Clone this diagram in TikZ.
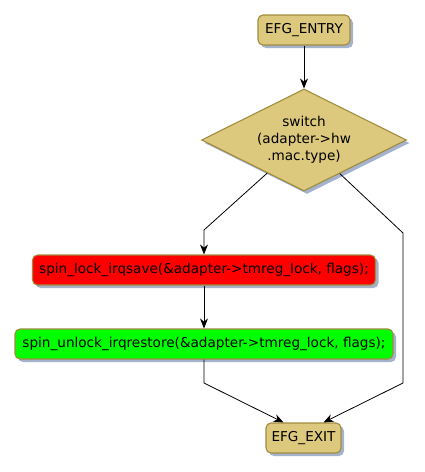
\documentclass[tikz,border=0pt]{standalone}
\usepackage{fontspec}
\setmainfont{DejaVu Sans}
\usetikzlibrary{shapes.geometric, arrows.meta, shadows}
\definecolor{tancol}{RGB}{220,201,125}
\definecolor{edgecol}{RGB}{160,140,64}
\definecolor{shadecol}{RGB}{165,178,204}
\definecolor{lockcol}{RGB}{255,0,0}
\definecolor{unlockcol}{RGB}{0,255,0}

\begin{document}
\begin{tikzpicture}[x=1pt, y=-1pt,
  shade/.style={drop shadow={shadow xshift=3pt, shadow yshift=-3pt,
      fill=shadecol, opacity=1}},
  box/.style={draw=edgecol, line width=1.1pt, rounded corners=5pt,
    inner sep=0pt, minimum height=30pt, shade,
    font=\fontsize{13.6}{17}\selectfont},
  decision/.style={diamond, aspect=2, draw=edgecol, line width=1.1pt,
    fill=tancol, minimum width=205pt, minimum height=102pt, inner sep=0pt,
    align=center, shade, font=\fontsize{13.6}{17}\selectfont},
  flow/.style={line width=0.8pt, -{Stealth[length=10pt, width=8pt]}}]

  \useasboundingbox (0,0) rectangle (425,472);

  % Nodes
  \node[box, fill=tancol, minimum width=92pt] (entry) at (304,30)
    {EFG\_ENTRY};
  \node[decision] (switch) at (304,140)
    {switch\\(adapter->hw\\.mac.type)};
  \node[box, fill=lockcol, minimum width=343pt] (lock) at (204,270)
    {spin\_lock\_irqsave(\&adapter->tmreg\_lock, flags);};
  \node[box, fill=unlockcol, minimum width=378pt] (unlock) at (204,344)
    {spin\_unlock\_irqrestore(\&adapter->tmreg\_lock, flags);};
  \node[box, fill=tancol, minimum width=75pt] (exit) at (303.5,438)
    {EFG\_EXIT};

  % Bends
  \coordinate (splitL) at (204,230);
  \coordinate (splitR) at (403,233);
  \coordinate (mergeL) at (204,383);
  \coordinate (mergeR) at (403,383);

  % Connectors
  \draw[flow] (entry) -- (switch);
  \draw[flow] (switch) -- (splitL) -- (lock);
  \draw[flow] (lock) -- (unlock);
  \draw[flow] (unlock) -- (mergeL) -- ([xshift=-20pt]exit.north);
  \draw[flow] (switch) -- (splitR) -- (mergeR) -- ([xshift=20pt]exit.north);

\end{tikzpicture}
\end{document}
